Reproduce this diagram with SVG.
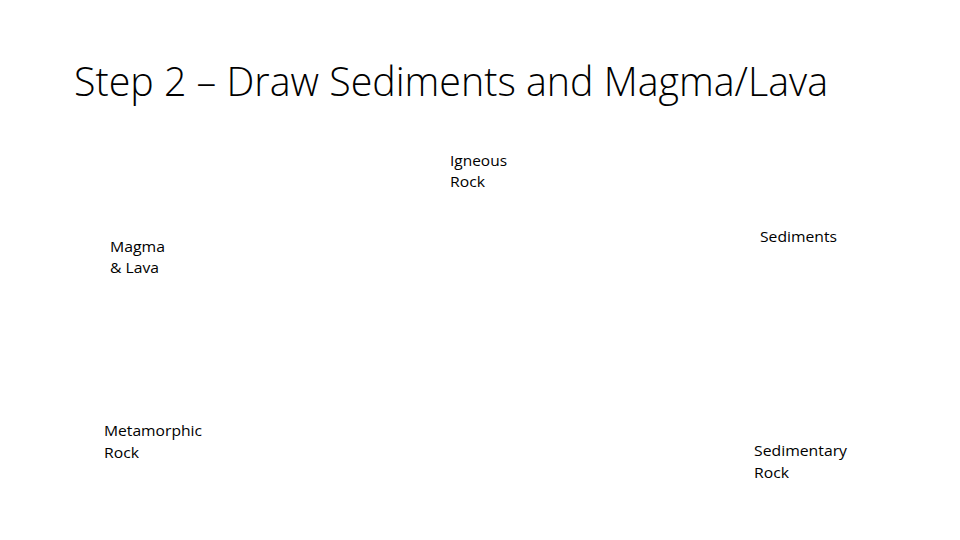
<svg xmlns="http://www.w3.org/2000/svg" width="960" height="540" viewBox="0 0 960 540">
<style>
.t{font-family:"Open Sans","Liberation Sans",sans-serif;fill:#000}
.title{font-size:40px;font-weight:300}
.lbl{font-size:15px}
</style>
<rect width="960" height="540" fill="#fff"/>
<text class="t title" x="74" y="96" textLength="754" lengthAdjust="spacingAndGlyphs">Step 2 – Draw Sediments and Magma/Lava</text>
<g id="igneous"><text class="t lbl"><tspan x="450" y="166" textLength="57" lengthAdjust="spacingAndGlyphs">Igneous</tspan><tspan x="450" y="187" textLength="35" lengthAdjust="spacingAndGlyphs">Rock</tspan></text></g>
<g id="magma"><text class="t lbl"><tspan x="110" y="252" textLength="55" lengthAdjust="spacingAndGlyphs">Magma</tspan><tspan x="110" y="273" textLength="49" lengthAdjust="spacingAndGlyphs">&amp; Lava</tspan></text></g>
<g id="sediments"><text class="t lbl"><tspan x="760" y="242" textLength="77" lengthAdjust="spacingAndGlyphs">Sediments</tspan></text></g>
<g id="metamorphic"><text class="t lbl"><tspan x="104" y="436" textLength="98" lengthAdjust="spacingAndGlyphs">Metamorphic</tspan><tspan x="104" y="458" textLength="35" lengthAdjust="spacingAndGlyphs">Rock</tspan></text></g>
<g id="sedimentary"><text class="t lbl"><tspan x="754" y="456" textLength="93" lengthAdjust="spacingAndGlyphs">Sedimentary</tspan><tspan x="754" y="478" textLength="35" lengthAdjust="spacingAndGlyphs">Rock</tspan></text></g>
<g id="connectors"/>
</svg>
